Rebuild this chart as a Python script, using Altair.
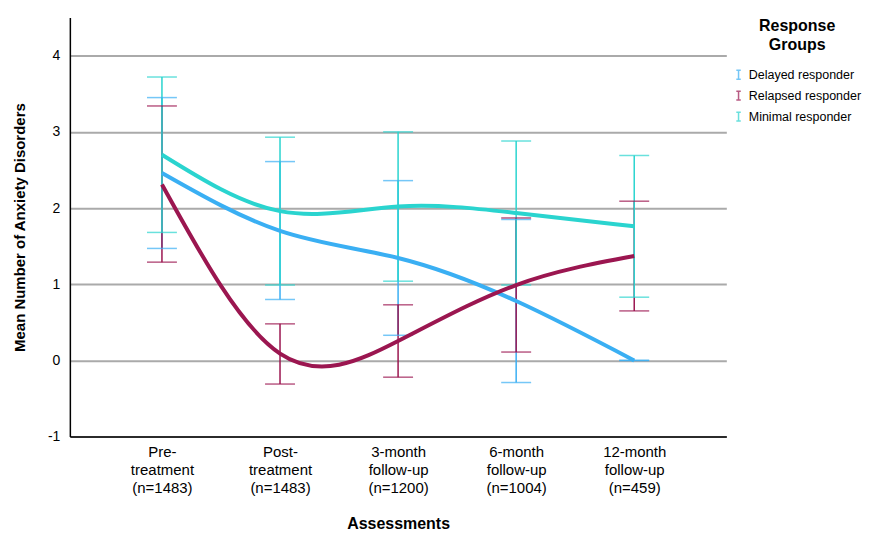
import altair as alt
import pandas as pd

assessments = [
    "Pre-\ntreatment\n(n=1483)",
    "Post-\ntreatment\n(n=1483)",
    "3-month\nfollow-up\n(n=1200)",
    "6-month\nfollow-up\n(n=1004)",
    "12-month\nfollow-up\n(n=459)",
]
groups = ["Delayed responder", "Relapsed responder", "Minimal responder"]
colors = ["#3aaff3", "#9b1650", "#2ad4cf"]

delayed_mean = [2.46, 1.70, 1.345, 0.78, 0.00]
delayed_low = [1.47, 0.80, 0.33, -0.29, 0.00]
delayed_high = [3.45, 2.61, 2.36, 1.85, 0.00]

relapsed_mean = [2.31, 0.09, 0.255, 0.99, 1.37]
relapsed_low = [1.29, -0.31, -0.22, 0.11, 0.65]
relapsed_high = [3.34, 0.48, 0.73, 1.87, 2.09]

minimal_mean = [2.70, 1.96, 2.02, 1.935, 1.76]
minimal_low = [1.68, 0.99, 1.04, 0.99, 0.83]
minimal_high = [3.72, 2.93, 3.00, 2.88, 2.69]

series = {
    "Delayed responder": (delayed_mean, delayed_low, delayed_high),
    "Relapsed responder": (relapsed_mean, relapsed_low, relapsed_high),
    "Minimal responder": (minimal_mean, minimal_low, minimal_high),
}
rows = []
for g, (m, lo, hi) in series.items():
    for a, mv, lv, hv in zip(assessments, m, lo, hi):
        rows.append({"assessment": a, "group": g, "mean": mv, "low": lv, "high": hv})
df = pd.DataFrame(rows)

FONT = "Liberation Sans"

x_enc = alt.X(
    "assessment:N",
    sort=assessments,
    scale=alt.Scale(type="point", padding=0.78),
    axis=alt.Axis(
        title="Assessments",
        labelExpr="split(datum.label, '\\n')",
        labelAngle=0,
        labelFontSize=15,
        labelLineHeight=18,
        labelPadding=8,
        labelColor="#000",
        ticks=False,
        grid=False,
        domainColor="#000",
        domainWidth=1.5,
        titleFontSize=16,
        titleFontWeight="bold",
        titlePadding=20,
        titleColor="#000",
    ),
)
y_scale = alt.Scale(domain=[-1, 4.5], nice=False, zero=False)
y_axis = alt.Axis(
    title="Mean Number of Anxiety Disorders",
    values=[-1, 0, 1, 2, 3, 4],
    labelExpr="'' + datum.value",
    labelFontSize=14,
    labelPadding=10,
    labelColor="#000",
    ticks=False,
    grid=True,
    gridColor="#aaaaaa",
    gridWidth=2,
    domainColor="#000",
    domainWidth=1.5,
    titleFontSize=15,
    titleFontWeight="bold",
    titlePadding=20,
    titleColor="#000",
)
color_enc = alt.Color(
    "group:N",
    scale=alt.Scale(domain=groups, range=colors),
    sort=groups,
    legend=alt.Legend(
        title=["Response", "Groups"],
        orient="none",
        legendX=664,
        legendY=0,
        padding=0,
        symbolType="M-0.5,-1H0.5M0,-1V1M-0.5,1H0.5",
        symbolSize=80,
        symbolStrokeWidth=1.5,
        symbolFillColor="transparent",
        labelFontSize=12.5,
        labelOffset=4,
        labelColor="#000",
        rowPadding=5,
        titleFontSize=16,
        titleFontWeight="bold",
        titleAlign="center",
        titleAnchor="middle",
        titleLineHeight=19,
        titlePadding=16,
        titleColor="#000",
    ),
)

base = alt.Chart(df)

rules = base.mark_rule(strokeWidth=1.5).encode(
    x=x_enc,
    y=alt.Y("low:Q", scale=y_scale, axis=y_axis),
    y2="high:Q",
    color=color_enc,
)
caps_low = base.mark_tick(size=30, thickness=1.5).encode(
    x=x_enc, y=alt.Y("low:Q", scale=y_scale, axis=y_axis), color=color_enc
)
caps_high = base.mark_tick(size=30, thickness=1.5).encode(
    x=x_enc, y=alt.Y("high:Q", scale=y_scale, axis=y_axis), color=color_enc
)
lines = base.mark_line(strokeWidth=4, interpolate="natural").encode(
    x=x_enc,
    y=alt.Y("mean:Q", scale=y_scale, axis=y_axis),
    color=color_enc,
    detail="group:N",
)

chart = (
    alt.layer(rules, caps_low, caps_high, lines)
    .properties(
        width=658,
        height=420,
        autosize=alt.AutoSizeParams(type="none"),
        padding={"left": 62, "top": 9, "right": 140, "bottom": 96},
    )
    .configure(font=FONT)
    .configure_view(stroke=None)
)

chart.save("out.html", embed_options={"renderer": "svg", "actions": False})
